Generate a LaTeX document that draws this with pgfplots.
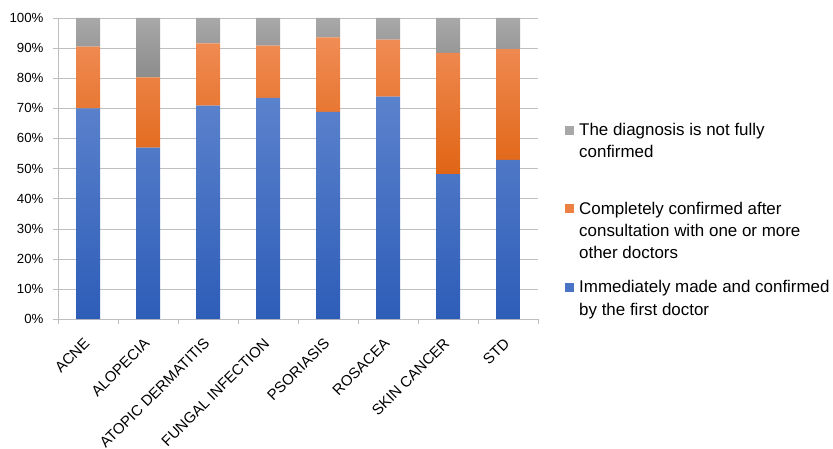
\documentclass[border=0pt]{standalone}
\usepackage{pgfplots}
\pgfplotsset{compat=1.18}
\usepackage{fontspec}
\setmainfont{Liberation Sans}

\definecolor{bluetop}{HTML}{5B82CC}
\definecolor{bluebot}{HTML}{2E5DB8}
\definecolor{orangetop}{HTML}{F08C55}
\definecolor{orangebot}{HTML}{E06515}
\definecolor{graytop}{HTML}{A8A8A8}
\definecolor{graybot}{HTML}{8C8C8C}
\definecolor{gridgray}{HTML}{BFBFBF}

\begin{document}
\begin{tikzpicture}
\useasboundingbox (-58bp,-130bp) rectangle (775bp,319bp);
\begin{axis}[
    scale only axis,
    width=480bp, height=301bp,
    at={(0,0)}, anchor=south west,
    ybar stacked, bar width=24bp,
    xmin=-0.5, xmax=7.5,
    ymin=0, ymax=100,
    axis lines*=left,
    axis line style={gridgray},
    ytick={0,10,...,100},
    yticklabel={\pgfmathprintnumber{\tick}\%},
    /pgf/number format/assume math mode=true,
    ymajorgrids, grid style={gridgray},
    tick align=outside,
    major tick length=5bp, minor tick length=5bp,
    ytick style={gridgray},
    xtick={0,...,7},
    xticklabels={ACNE,ALOPECIA,ATOPIC DERMATITIS,FUNGAL INFECTION,PSORIASIS,ROSACEA,SKIN CANCER,STD},
    major x tick style={draw=none},
    minor xtick={-0.5,0.5,...,7.5},
    minor x tick style={gridgray},
    yticklabel style={font=\fontsize{13.3}{15}\selectfont, xshift=-6bp},
    xticklabel style={font=\fontsize{15}{17}\selectfont, xshift=-5bp, yshift=-10bp,
      rotate=45, anchor=north east, inner sep=2bp},
  ]
  \addplot[draw=none, top color=bluetop, bottom color=bluebot] coordinates {
    (0,70.0) (1,56.9) (2,70.9) (3,73.5) (4,68.8) (5,73.9) (6,48.1) (7,52.9)
  };
  \addplot[draw=none, top color=orangetop, bottom color=orangebot] coordinates {
    (0,20.5) (1,23.4) (2,20.7) (3,17.3) (4,24.8) (5,18.9) (6,40.3) (7,36.8)
  };
  \addplot[draw=none, top color=graytop, bottom color=graybot] coordinates {
    (0,9.5) (1,19.7) (2,8.4) (3,9.2) (4,6.4) (5,7.2) (6,11.6) (7,10.3)
  };
\end{axis}
% legend (node base = baseline of last line)
\begin{scope}[every node/.style={anchor=base west, align=left, inner sep=0pt,
    font=\fontsize{17}{22.3}\selectfont}]
  \fill[graytop] (507bp,184bp) rectangle (516bp,193bp);
  \node at (521bp,161bp) {The diagnosis is not fully\\confirmed};
  \fill[orangetop!70!orangebot] (507bp,106bp) rectangle (516bp,115bp);
  \node at (521bp,60bp) {Completely confirmed after\\consultation with one or more\\other doctors};
  \fill[bluetop!60!bluebot] (507bp,27bp) rectangle (516bp,36bp);
  \node at (521bp,4bp) {Immediately made and confirmed\\by the first doctor};
\end{scope}
\end{tikzpicture}
\end{document}
